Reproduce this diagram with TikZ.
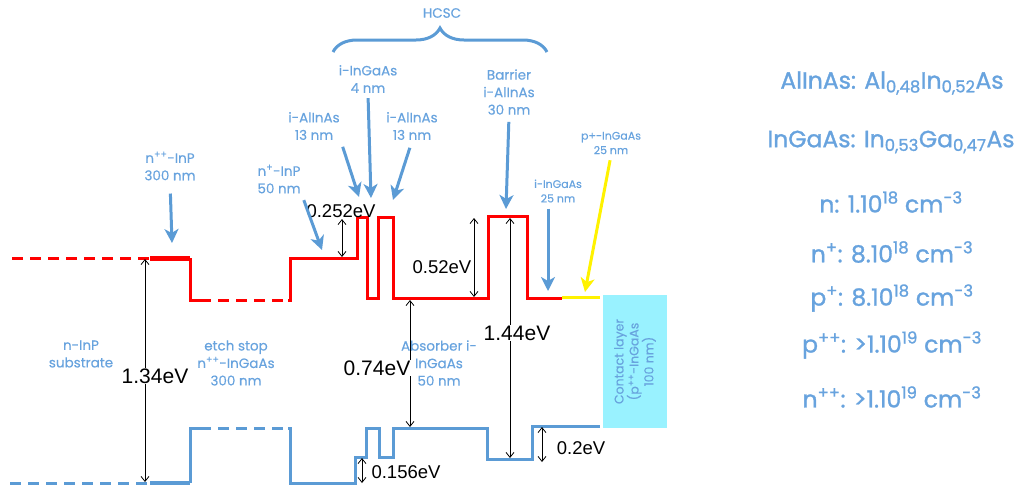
\documentclass[tikz,border=0pt]{standalone}
\usepackage{fontspec}
\setmainfont{Poppins}[UprightFeatures={FakeBold=0.4}]
\newfontfamily\notefont{Poppins}[UprightFeatures={FakeBold=1.2}]
\newfontfamily\evfont{Liberation Sans}
\usetikzlibrary{arrows.meta,decorations.pathreplacing}
\definecolor{bandblue}{RGB}{91,155,213}
\definecolor{textblue}{RGB}{104,163,222}
\definecolor{contactcyan}{RGB}{153,242,255}

\begin{document}
\begin{tikzpicture}[x=1pt,y=-1pt,
    cband/.style={red,line width=3pt},
    vband/.style={bandblue,line width=3pt},
    gapdash/.style={dash pattern=on 11pt off 7pt},
    layer/.style={text=textblue,align=center,font=\fontsize{13.5}{17.5}\selectfont,inner sep=1pt},
    smalllayer/.style={layer,font=\fontsize{11}{14.5}\selectfont},
    pointer/.style={bandblue,line width=3pt,-{Stealth[length=14pt,width=14pt,inset=4pt]}},
    gap/.style={black,line width=0.8pt,{Straight Barb[length=5pt,width=8pt]}-{Straight Barb[length=5pt,width=8pt]}},
    ev/.style={font=\evfont\fontsize{18.5}{20}\selectfont,inner sep=1pt},
    bigev/.style={font=\evfont\fontsize{21}{23}\selectfont,fill=white,inner sep=1pt},
    note/.style={text=textblue,font=\notefont\fontsize{23.5}{28}\selectfont}]
  \useasboundingbox (0,0) rectangle (1022,491);

  % conduction band
  \draw[cband,gapdash] (12,258) -- (150,258);
  \draw[cband,line width=5pt] (150,258) -- (190,258);
  \draw[cband] (190,258) -- (190,300) -- (200,300);
  \draw[cband,gapdash] (200,300) -- (288,300);
  \draw[cband] (288,300) -- (290,300) -- (290,258) -- (357,258) -- (357,217)
    -- (367,217) -- (367,298) -- (378,298) -- (378,217) -- (393,217) -- (393,298)
    -- (488,298) -- (488,216) -- (527,216) -- (527,298) -- (562,298);
  \draw[yellow,line width=3pt] (562,297) -- (600,297);

  % valence band
  \draw[vband,gapdash] (10,483) -- (150,483);
  \draw[vband,line width=4.5pt] (150,483) -- (190,483);
  \draw[vband] (190,483) -- (190,428) -- (200,428);
  \draw[vband,gapdash] (200,428) -- (288,428);
  \draw[vband] (288,428) -- (290,428) -- (290,483) -- (355,483) -- (355,457)
    -- (366,457) -- (366,428) -- (379,428) -- (379,457) -- (393,457) -- (393,428)
    -- (487,428) -- (487,459) -- (532,459) -- (532,426) -- (600,426);

  % contact layer
  \node[fill=contactcyan,rotate=90,minimum width=133pt,minimum height=64pt,
    align=center,text=textblue,font=\fontsize{12.5}{15}\selectfont] (contact) at (635,361.5)
    {Contact layer\\(p\textsuperscript{++}-InGaAs\\100 nm)};

  % band gaps
  \coordinate (cbSub) at (145,259);
  \coordinate (vbSub) at (145,482);
  \coordinate (cbStep) at (342,219);
  \coordinate (cbNp) at (342,257);
  \coordinate (cbBarL) at (474,218);
  \coordinate (cbAbsL) at (474,297);
  \coordinate (cbBar) at (510,218);
  \coordinate (vbWell) at (510,458);
  \coordinate (cbAbs) at (410,300);
  \coordinate (vbAbs) at (410,427);
  \coordinate (vbStepT) at (362,458);
  \coordinate (vbStepB) at (362,483);
  \coordinate (vbCapT) at (542,427);
  \coordinate (vbCapB) at (542,462);
  \draw[gap] (cbSub) -- (vbSub);
  \draw[gap] (cbStep) -- (cbNp);
  \draw[gap] (cbBarL) -- (cbAbsL);
  \draw[gap] (cbBar) -- (vbWell);
  \draw[gap] (cbAbs) -- (vbAbs);
  \draw[gap] (vbStepT) -- (vbStepB);
  \draw[gap] (vbCapT) -- (vbCapB);
  \node[bigev] (gInP) at (155,376) {1.34eV};
  \node[bigev] (gAlInAs) at (517,333) {1.44eV};
  \node[bigev] (gInGaAs) at (377,368) {0.74eV};
  \node[ev] (dEstep) at (341,211) {0.252eV};
  \node[ev] (dEbar) at (442,267) {0.52eV};
  \node[ev] (dVstep) at (406,472) {0.156eV};
  \node[ev] (dVcap) at (581,448) {0.2eV};

  % layer labels
  \node[layer] (hcsc) at (442,13) {HCSC};
  \draw[bandblue,line width=3pt,decorate,decoration={brace,amplitude=24pt}]
    (333,52) -- (547,52);
  \node[layer] (npp) at (170,166) {n\textsuperscript{++}-InP\\300 nm};
  \node[layer] (np) at (279,179) {n\textsuperscript{+}-InP\\50 nm};
  \node[layer] (alA) at (314,126) {i-AlInAs\\13 nm};
  \node[layer] (qw) at (368,79) {i-InGaAs\\4 nm};
  \node[layer] (alB) at (412,126) {i-AlInAs\\13 nm};
  \node[layer] (bar) at (509,92) {Barrier\\i-AlInAs\\30 nm};
  \node[smalllayer] (cap) at (558,191) {i-InGaAs\\25 nm};
  \node[smalllayer] (ptop) at (611,143) {p+-InGaAs\\25 nm};
  \node[layer] (sub) at (81,354) {n-InP\\substrate};
  \node[layer] (etch) at (236,363) {etch stop\\n\textsuperscript{++}-InGaAs\\300 nm};
  \node[layer] (abs) at (439,363) {Absorber i-\\InGaAs\\50 nm};

  \coordinate (nppTip) at (172,243);
  \coordinate (npTip) at (322,250);
  \coordinate (alATip) at (359,197);
  \coordinate (qwTip) at (371,198);
  \coordinate (alBTip) at (393,200);
  \coordinate (barTip) at (506,209);
  \coordinate (capTip) at (548,291);
  \coordinate (ptopTip) at (585,292);
  \draw[pointer,shorten <=12pt] (npp.south) -- (nppTip);
  \draw[pointer,shorten <=6pt] (np.south east) -- (npTip);
  \draw[pointer,shorten <=6pt] (alA.south east) -- (alATip);
  \draw[pointer,shorten <=4pt] (qw.south) -- (qwTip);
  \draw[pointer,shorten <=7pt] (alB.south) -- (alBTip);
  \draw[pointer,shorten <=6pt] (bar.south) -- (barTip);
  \draw[pointer,shorten <=5pt] ([xshift=-10pt]cap.south) -- (capTip);
  \draw[pointer,yellow,shorten <=5pt] (ptop.south) -- (ptopTip);

  % materials and doping
  \node[note] (alinas) at (892,83) {AlInAs: Al\textsubscript{0,48}In\textsubscript{0,52}As};
  \node[note] (ingaas) at (891,142) {InGaAs: In\textsubscript{0,53}Ga\textsubscript{0,47}As};
  \node[note] (dopN) at (891,202) {n: 1.10\textsuperscript{18} cm\textsuperscript{-3}};
  \node[note] (dopNp) at (892,252) {n\textsuperscript{+}: 8.10\textsuperscript{18} cm\textsuperscript{-3}};
  \node[note] (dopPp) at (892,298) {p\textsuperscript{+}: 8.10\textsuperscript{18} cm\textsuperscript{-3}};
  \node[note] (dopPpp) at (892,345) {p\textsuperscript{++}: >1.10\textsuperscript{19} cm\textsuperscript{-3}};
  \node[note] (dopNpp) at (892,397) {n\textsuperscript{++}: >1.10\textsuperscript{19} cm\textsuperscript{-3}};
\end{tikzpicture}
\end{document}
